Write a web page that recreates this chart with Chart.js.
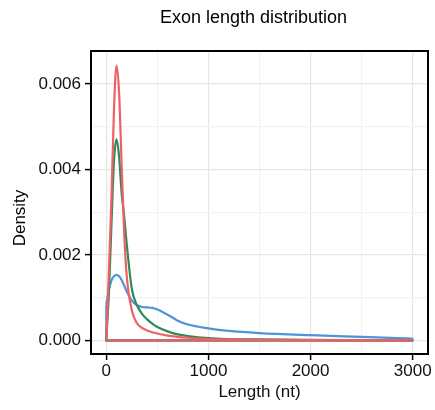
<!DOCTYPE html>
<html>
<head>
<meta charset="utf-8">
<title>Exon length distribution</title>
<script src="https://cdn.jsdelivr.net/npm/chart.js@4.4.1/dist/chart.umd.min.js"></script>
<style>
  html, body { margin: 0; padding: 0; background: #fff; }
  canvas { display: block; }
</style>
</head>
<body>
<canvas id="exonChart" width="435" height="410"></canvas>
<script>
/* Exon length density curves */

// x positions (nt) shared by the three series
const lengthsNt = [0, 25, 50, 75, 100, 125, 150, 175, 200, 250, 300, 350, 400, 450, 500, 600, 700, 800, 1000, 1200, 1500, 2000, 2500, 3000];

// density values
const blueDensity  = [0.00084, 0.00118, 0.00140, 0.00150, 0.00153, 0.00150, 0.00141, 0.00128, 0.00114, 0.00093, 0.00082, 0.00078, 0.00077, 0.00076, 0.00072, 0.00060, 0.00046, 0.00037, 0.00028, 0.00022, 0.00017, 0.00012, 0.00008, 0.00004];
const greenDensity = [0.00005, 0.00110, 0.00270, 0.00420, 0.00470, 0.00430, 0.00345, 0.00290, 0.00225, 0.00120, 0.00082, 0.00062, 0.00049, 0.00039, 0.00031, 0.00021, 0.00014, 0.00010, 0.00005, 0.00003, 0.00002, 0.00001, 0.000005, 0];
const redDensity   = [0, 0.00160, 0.00330, 0.00540, 0.00643, 0.00580, 0.00410, 0.00250, 0.00150, 0.00070, 0.00040, 0.00029, 0.00023, 0.00019, 0.00016, 0.00011, 0.00008, 0.00006, 0.00003, 0.00002, 0.00001, 0.000005, 0.000002, 0];

// axis ticks (major + minor) and their labels
const xTicks = [0, 500, 1000, 1500, 2000, 2500, 3000];
const xTickLabels = ['0', '', '1000', '', '2000', '', '3000'];
const yTicks = [0, 0.001, 0.002, 0.003, 0.004, 0.005, 0.006];
const yTickLabels = ['0.000', '', '0.002', '', '0.004', '', '0.006'];

const FONT = "'Liberation Sans', Arial, Helvetica, sans-serif";

// smooth density curve
function curve(values, color) {
  return {
    data: lengthsNt.map((x, i) => ({ x: x, y: values[i] })),
    showLine: true,
    borderColor: color,
    borderWidth: 2.2,
    pointRadius: 0,
    cubicInterpolationMode: 'monotone',
    fill: false
  };
}

// the closing edges of the density outline: down at each end and along the baseline
function base(values, color) {
  const first = lengthsNt[0], last = lengthsNt[lengthsNt.length - 1];
  return {
    data: [
      { x: first, y: values[0] }, { x: first, y: 0 },
      { x: last, y: 0 }, { x: last, y: values[values.length - 1] }
    ],
    showLine: true,
    borderColor: color,
    borderWidth: 2.2,
    pointRadius: 0,
    tension: 0,
    fill: false
  };
}

const panelDecor = {
  id: 'panelDecor',
  afterDraw(chart) {
    const { ctx, chartArea: a } = chart;
    ctx.save();
    ctx.strokeStyle = '#000';
    ctx.lineWidth = 2;
    ctx.strokeRect(a.left, a.top, a.right - a.left, a.bottom - a.top);

    ctx.fillStyle = '#000';
    ctx.textAlign = 'center';
    ctx.textBaseline = 'middle';
    ctx.font = '18px ' + FONT;
    ctx.fillText('Exon length distribution', (a.left + a.right) / 2 - 6, 18);

    ctx.font = '17px ' + FONT;
    ctx.translate(20, 218);
    ctx.rotate(-Math.PI / 2);
    ctx.fillText('Density', 0, 0);
    ctx.restore();
  }
};

const gridColor = (c) => c.index % 2 === 0 ? '#E6E6E6' : '#F3F3F3';
const tickColor = (c) => c.index % 2 === 0 ? '#000' : 'rgba(0,0,0,0)';

const RED = '#EE6066', GREEN = '#2E8B57', BLUE = '#4D94D8';

new Chart(document.getElementById('exonChart'), {
  type: 'scatter',
  data: {
    datasets: [
      curve(redDensity, RED),
      base(redDensity, RED),
      curve(greenDensity, GREEN),
      base(greenDensity, GREEN),
      curve(blueDensity, BLUE),
      base(blueDensity, BLUE)
    ]
  },
  options: {
    responsive: false,
    animation: false,
    devicePixelRatio: 1,
    layout: { padding: { left: 0, top: 51, right: 7, bottom: 0 } },
    plugins: {
      legend: { display: false },
      tooltip: { enabled: false },
      title: { display: false }
    },
    scales: {
      x: {
        type: 'linear',
        min: -150,
        max: 3150,
        afterBuildTicks: (s) => { s.ticks = xTicks.map(v => ({ value: v })); },
        afterFit: (s) => { s.height = 56; },
        grid: { color: gridColor, lineWidth: 1.2, tickColor: tickColor, tickLength: 6, tickWidth: 1.5 },
        border: { display: true, color: '#000', width: 2 },
        ticks: {
          color: '#111',
          font: { family: FONT, size: 17 },
          padding: 1,
          maxRotation: 0,
          autoSkip: false,
          callback: (v, i) => xTickLabels[i]
        },
        title: {
          display: true,
          text: 'Length (nt)',
          color: '#111',
          font: { family: FONT, size: 17 },
          padding: { top: 0, bottom: 7 }
        }
      },
      y: {
        type: 'linear',
        min: -0.00032,
        max: 0.00677,
        afterBuildTicks: (s) => { s.ticks = yTicks.map(v => ({ value: v })); },
        afterFit: (s) => { s.width = 91; },
        grid: { color: gridColor, lineWidth: 1.2, tickColor: tickColor, tickLength: 6, tickWidth: 1.5 },
        border: { display: true, color: '#000', width: 2 },
        ticks: {
          color: '#111',
          font: { family: FONT, size: 17 },
          padding: 4,
          autoSkip: false,
          callback: (v, i) => yTickLabels[i]
        }
      }
    }
  },
  plugins: [panelDecor]
});
</script>
</body>
</html>
